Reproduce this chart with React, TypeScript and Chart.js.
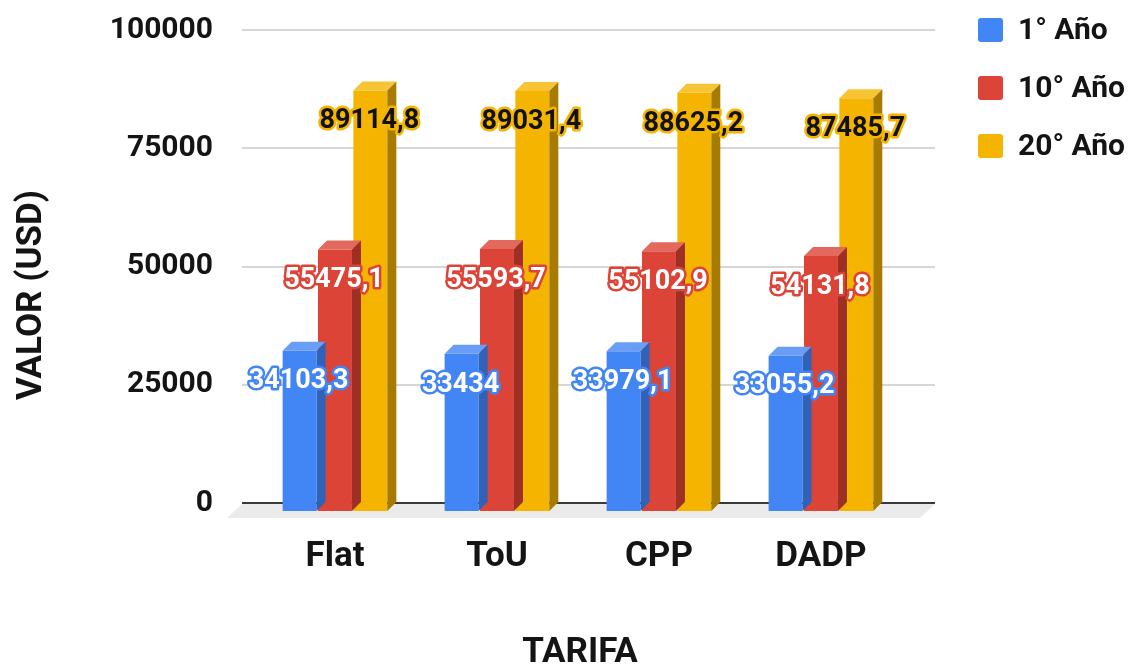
import React, { useEffect, useRef } from "react";
import { Chart, registerables } from "chart.js";

Chart.register(...registerables);

const categories = ["Flat", "ToU", "CPP", "DADP"];
const seriesNames = ["1° Año", "10° Año", "20° Año"];
const year1 = [34103.3, 33434, 33979.1, 33055.2];
const year10 = [55475.1, 55593.7, 55102.9, 54131.8];
const year20 = [89114.8, 89031.4, 88625.2, 87485.7];
const yTicks = [0, 25000, 50000, 75000, 100000];

const COLORS = ["#4285F4", "#DB4437", "#F4B400"];
const TOP_COLORS = ["#6a9ef6", "#e3685d", "#f7c435"];
const SIDE_COLORS = ["#2f62b8", "#9e2f25", "#a67b00"];
const LABEL_FILL = ["#ffffff", "#ffffff", "#111111"];
const DX = 9;
const DY = 9;
const FONT = "Roboto, 'Noto Sans', sans-serif";
const TEXT = "#141414";

const fmt = (v: number) => String(v).replace(".", ",");

const threeD = {
  id: "threeD",
  beforeDatasetsDraw(chart: any) {
    const { ctx, chartArea } = chart;
    ctx.save();
    ctx.fillStyle = "#ebebeb";
    ctx.beginPath();
    ctx.moveTo(chartArea.left, chartArea.bottom + 1);
    ctx.lineTo(chartArea.right, chartArea.bottom + 1);
    ctx.lineTo(chartArea.right - 15, chartArea.bottom + 15);
    ctx.lineTo(chartArea.left - 15, chartArea.bottom + 15);
    ctx.closePath();
    ctx.fill();
    ctx.restore();
  },
  beforeDatasetDraw(chart: any) {
    chart.ctx.save();
    chart.ctx.translate(0, DY);
  },
  afterDatasetDraw(chart: any, args: any) {
    const { ctx } = chart;
    const i = args.index;
    args.meta.data.forEach((el: any) => {
      const { x, y, base, width } = el.getProps(["x", "y", "base", "width"], true);
      const x0 = x - width / 2;
      const x1 = x + width / 2;
      ctx.fillStyle = TOP_COLORS[i];
      ctx.beginPath();
      ctx.moveTo(x0, y);
      ctx.lineTo(x0 + DX, y - DY);
      ctx.lineTo(x1 + DX, y - DY);
      ctx.lineTo(x1, y);
      ctx.closePath();
      ctx.fill();
      ctx.fillStyle = SIDE_COLORS[i];
      ctx.beginPath();
      ctx.moveTo(x1, y);
      ctx.lineTo(x1 + DX, y - DY);
      ctx.lineTo(x1 + DX, base - DY);
      ctx.lineTo(x1, base);
      ctx.closePath();
      ctx.fill();
    });
    ctx.restore();
  },
  afterDatasetsDraw(chart: any) {
    const { ctx } = chart;
    ctx.save();
    ctx.font = `bold 27px ${FONT}`;
    ctx.textAlign = "center";
    ctx.textBaseline = "middle";
    ctx.lineJoin = "round";
    chart.data.datasets.forEach((ds: any, i: number) => {
      const meta = chart.getDatasetMeta(i);
      meta.data.forEach((el: any, j: number) => {
        const v = ds.data[j].y;
        const tx = el.x - 1;
        const ty = el.y + 40;
        ctx.strokeStyle = COLORS[i];
        ctx.lineWidth = 5;
        ctx.strokeText(fmt(v), tx, ty);
        ctx.fillStyle = LABEL_FILL[i];
        ctx.fillText(fmt(v), tx, ty);
      });
    });
    ctx.restore();
  },
  afterDraw(chart: any) {
    const { ctx } = chart;
    ctx.save();
    ctx.fillStyle = TEXT;
    ctx.font = `bold 30px ${FONT}`;
    ctx.textBaseline = "middle";
    seriesNames.forEach((name, i) => {
      const cy = 30 + i * 58;
      ctx.fillStyle = COLORS[i];
      ctx.beginPath();
      (ctx as any).roundRect(978, cy - 12, 25, 24, 3);
      ctx.fill();
      ctx.fillStyle = TEXT;
      ctx.textAlign = "left";
      ctx.fillText(name, 1018, cy + 1);
    });
    ctx.font = `bold 35px ${FONT}`;
    ctx.textAlign = "center";
    ctx.fillText("TARIFA", 580, 653);
    ctx.translate(31, 295);
    ctx.rotate(-Math.PI / 2);
    ctx.fillText("VALOR (USD)", 0, 1);
    ctx.restore();
  },
};

export default function App() {
  const ref = useRef<HTMLCanvasElement>(null);
  useEffect(() => {
    const series = [year1, year10, year20];
    const chart = new Chart(ref.current as HTMLCanvasElement, {
      type: "bar",
      data: {
        datasets: series.map((s, i) => ({
          label: seriesNames[i],
          data: s.map((v, j) => ({ x: j, y: v })),
          backgroundColor: COLORS[i],
          borderWidth: 0,
          categoryPercentage: 0.655,
          barPercentage: 0.96,
          clip: false as any,
        })),
      },
      options: {
        responsive: false,
        animation: false,
        devicePixelRatio: 1,
        layout: { padding: { top: 30, right: 202, bottom: 0, left: 0 } },
        plugins: { legend: { display: false }, tooltip: { enabled: false } },
        scales: {
          x: {
            type: "linear",
            offset: false,
            min: -0.574,
            max: 3.704,
            afterBuildTicks: (scale: any) => {
              scale.ticks = categories.map((_, i) => ({ value: i }));
            },
            afterFit: (scale: any) => {
              scale.height = 165;
              scale.paddingLeft = 0;
              scale.paddingRight = 0;
            },
            grid: { display: false, drawTicks: false, offset: false },
            border: { display: false },
            ticks: {
              callback: (v: any) => categories[v] ?? "",
              font: { family: FONT, size: 35, weight: "bold" },
              color: TEXT,
              padding: 33,
              maxRotation: 0,
              autoSkip: false,
            },
          },
          y: {
            min: 0,
            max: 100000,
            afterBuildTicks: (scale: any) => {
              scale.ticks = yTicks.map((v) => ({ value: v }));
            },
            afterFit: (scale: any) => {
              scale.width = 242;
              scale.paddingTop = 0;
              scale.paddingBottom = 0;
            },
            grid: {
              drawTicks: false,
              lineWidth: 2,
              color: (c: any) => (c.tick && c.tick.value === 0 ? "#3a3a3a" : "#d6d6d6"),
            },
            border: { display: false },
            ticks: {
              callback: (v: any) => String(v),
              font: { family: FONT, size: 30, weight: "bold" },
              color: TEXT,
              padding: 29,
            },
          },
        },
      },
      plugins: [threeD],
    } as any);
    return () => chart.destroy();
  }, []);
  return (
    <div style={{ position: "absolute", left: 0, top: 0, width: 1137, height: 668, background: "#fff" }}>
      <canvas ref={ref} width={1137} height={668} />
    </div>
  );
}
